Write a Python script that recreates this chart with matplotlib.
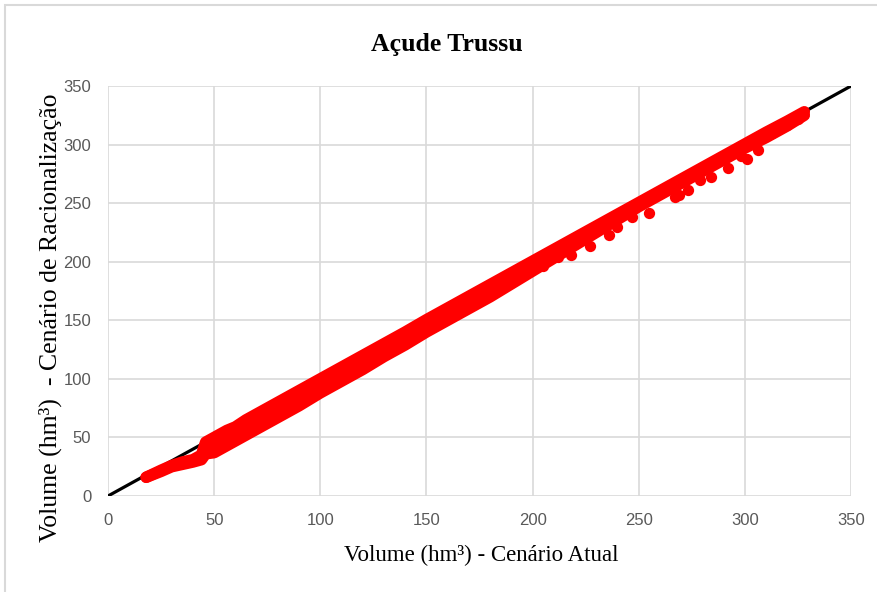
import matplotlib.pyplot as plt
from matplotlib.patches import Rectangle

# envelope of the dense cloud of points (centres of the markers)
x_env = [18, 25, 30, 35, 40, 44, 46, 50, 56, 60, 65, 70, 80, 90, 100, 110, 120,
         130, 140, 150, 160, 170, 180, 190, 200, 210, 220, 230, 240, 250, 260,
         270, 280, 290, 300, 310, 320, 328]
y_upper = [16, 22, 26, 29, 31, 35, 46, 50, 56, 59, 65, 70, 80, 90, 100, 110, 120,
           130, 140, 150.5, 160.5, 170.5, 180.5, 190.5, 200.5, 210.5, 220.5, 230.5,
           240.5, 250.5, 260.5, 270.5, 280.5, 290.5, 300.5, 310.5, 320, 328]
y_lower = [16, 21, 25, 27, 29, 31, 36, 37, 43, 47, 52, 57, 67, 77, 88, 98, 108,
           119, 129, 140, 150, 160, 170, 181, 192, 203, 214, 225, 236, 247, 257,
           267, 277, 287, 297, 306, 316, 325]

# isolated points below the main band
x_out = [205, 212, 218, 227, 236, 240, 247, 255, 267, 269, 273, 279, 284, 292,
         298, 301, 306, 313, 320, 325]
y_out = [196, 204, 206, 213, 223, 230, 238, 242, 255, 257, 261, 270, 272, 280,
         290, 288, 295, 310, 317, 322]

# 1:1 reference line
x_ref = [0, 350]
y_ref = [0, 350]

ticks = [0, 50, 100, 150, 200, 250, 300, 350]

fig = plt.figure(figsize=(8.77, 5.92), dpi=100)
fig.patches.append(Rectangle((5 / 877, -0.1), 1.2, 1 - 5 / 592 + 0.1,
                             transform=fig.transFigure, fill=False,
                             edgecolor='#d9d9d9', linewidth=1.5))

ax = fig.add_axes([108 / 877, 1 - 496 / 592, 743 / 877, 410 / 592])

ax.plot(x_ref, y_ref, color='black', linewidth=2.3, zorder=2)

red = '#ff0000'
ax.fill_between(x_env, y_lower, y_upper, color=red, linewidth=0, zorder=3)
for ys in (y_upper, y_lower):
    ax.plot(x_env, ys, color=red, linewidth=8.3, solid_capstyle='round',
            solid_joinstyle='round', zorder=3)
ax.scatter(x_out, y_out, s=66, color=red, linewidths=0, zorder=3)

ax.set_xlim(0, 350)
ax.set_ylim(0, 350)
ax.set_xticks(ticks)
ax.set_yticks(ticks)
ax.grid(True, color='#d9d9d9', linewidth=1.2)
ax.set_axisbelow(True)
for s in ax.spines.values():
    s.set_visible(False)
ax.tick_params(length=0, labelsize=12, labelcolor='#595959', pad=12)
for lab in ax.get_xticklabels() + ax.get_yticklabels():
    lab.set_family(['Liberation Sans', 'DejaVu Sans'])

serif = ['Liberation Serif', 'DejaVu Serif']
fig.text(447 / 877, 1 - 45 / 592, 'Açude Trussu', ha='center', va='center',
         fontsize=18.5, fontweight='bold', family=serif)
fig.text(481 / 877, 1 - 555 / 592, 'Volume (hm³) - Cenário Atual', ha='center',
         va='center', fontsize=16.5, family=serif)
fig.text(50 / 877, 1 - 318 / 592, 'Volume (hm³)  - Cenário de Racionalização',
         ha='center', va='center', rotation=90, fontsize=18.5, family=serif)

fig.savefig('out.png', dpi=100)
